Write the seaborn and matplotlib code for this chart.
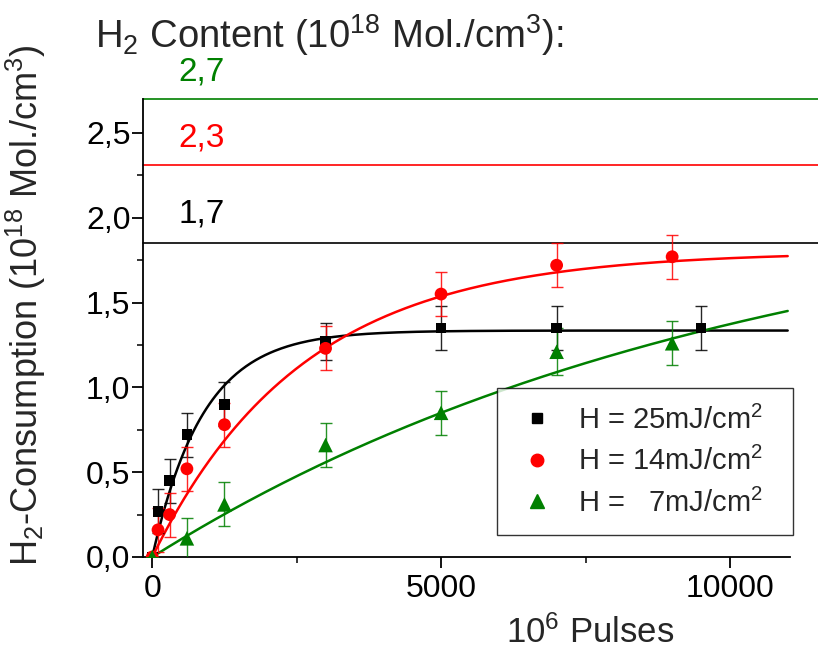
import numpy as np
import pandas as pd
import matplotlib
matplotlib.use("Agg")
import matplotlib.pyplot as plt
from matplotlib.ticker import FixedLocator, FuncFormatter
from matplotlib.lines import Line2D
import seaborn as sns

# ---------------- data ----------------
series_labels = ["H = 25mJ/cm$^2$", "H = 14mJ/cm$^2$", "H =   7mJ/cm$^2$"]
series_colors = ["#000000", "#ff0000", "#008000"]
series_markers = ["s", "o", "^"]

x_25 = [0, 100, 300, 600, 1250, 3000, 5000, 7000, 9500]
y_25 = [0.0, 0.27, 0.45, 0.72, 0.90, 1.27, 1.35, 1.35, 1.35]
e_25 = [0.0, 0.13, 0.13, 0.13, 0.13, 0.11, 0.13, 0.13, 0.13]

x_14 = [0, 100, 300, 600, 1250, 3000, 5000, 7000, 9000]
y_14 = [0.0, 0.16, 0.25, 0.52, 0.78, 1.23, 1.55, 1.72, 1.77]
e_14 = [0.0, 0.13, 0.13, 0.13, 0.13, 0.13, 0.13, 0.13, 0.13]

x_7 = [0, 600, 1250, 3000, 5000, 7000, 9000]
y_7 = [0.0, 0.11, 0.31, 0.66, 0.85, 1.21, 1.26]
e_7 = [0.0, 0.12, 0.13, 0.13, 0.13, 0.14, 0.13]

# saturation-fit parameters of the drawn curves: y = A * (1 - exp(-x / tau))
fit_amplitude = [1.335, 1.80, 2.21]
fit_tau = [880, 2600, 10300]
fit_x_max = 11000

# H2 content reference lines
content_labels = ["1,7", "2,3", "2,7"]
content_levels = [1.85, 2.31, 2.70]
content_label_y = [2.02, 2.47, 2.86]
content_colors = ["#000000", "#ff0000", "#008000"]

x_ticks = [0, 5000, 10000]
x_minor = [2500, 7500]
y_ticks = [0.0, 0.5, 1.0, 1.5, 2.0, 2.5]
y_minor = [0.25, 0.75, 1.25, 1.75, 2.25]

# ---------------- style ----------------
sns.set_style("ticks")
plt.rcParams["font.family"] = ["Liberation Sans", "DejaVu Sans"]
plt.rcParams["mathtext.fontset"] = "custom"
plt.rcParams["mathtext.rm"] = "Liberation Sans"
plt.rcParams["mathtext.it"] = "Liberation Sans:italic"
plt.rcParams["mathtext.bf"] = "Liberation Sans:bold"
plt.rcParams["mathtext.default"] = "regular"

W, H = 818, 653
fig = plt.figure(figsize=(W / 100, H / 100), dpi=100)
L, R, B, T = 143, 790, 557, 99
ax = fig.add_axes([L / W, 1 - B / H, (R - L) / W, (B - T) / H])

xs = [x_25, x_14, x_7]
ys = [y_25, y_14, y_7]
es = [e_25, e_14, e_7]
sizes = [60, 85, 110]

frames = []
for i in range(3):
    frames.append(pd.DataFrame({"x": xs[i], "y": ys[i], "err": es[i],
                                "series": series_labels[i]}))
df = pd.concat(frames, ignore_index=True)

# fit curves
fit_frames = []
for i in range(3):
    fx = np.linspace(0, fit_x_max, 400)
    fy = fit_amplitude[i] * (1 - np.exp(-fx / fit_tau[i]))
    fit_frames.append(pd.DataFrame({"x": fx, "y": fy, "series": series_labels[i]}))
fit_df = pd.concat(fit_frames, ignore_index=True)

sns.lineplot(data=fit_df, x="x", y="y", hue="series", palette=series_colors,
             hue_order=series_labels, linewidth=1.8, legend=False, ax=ax,
             zorder=2)

for i in range(3):
    sub = df[df["series"] == series_labels[i]]
    ax.errorbar(sub["x"], sub["y"], yerr=sub["err"], fmt="none",
                ecolor=series_colors[i], elinewidth=1.0, capsize=4.5,
                capthick=1.0, alpha=0.85, zorder=3)
    sns.scatterplot(data=sub, x="x", y="y", color=series_colors[i],
                    marker=series_markers[i], s=sizes[i], edgecolor="none",
                    legend=False, ax=ax, zorder=4)

# content lines and labels
for lab, lev, ly, col in zip(content_labels, content_levels, content_label_y, content_colors):
    ax.plot([0, 1.06], [lev, lev], transform=ax.get_yaxis_transform(),
            color=col, linewidth=1.2, clip_on=False, zorder=1)
    ax.text(450, ly, lab, color=col, fontsize=24, ha="left", va="center",
            clip_on=False)

fig.text(95 / W, 1 - 35 / H,
         "H$_2$ Content (10$^{18}$ Mol./cm$^3$):",
         fontsize=27.5, ha="left", va="center")

ax.set_xlim(-160, 11040)
ax.set_ylim(0, 2.7)

ax.xaxis.set_major_locator(FixedLocator(x_ticks))
ax.xaxis.set_minor_locator(FixedLocator(x_minor))
ax.yaxis.set_major_locator(FixedLocator(y_ticks))
ax.yaxis.set_minor_locator(FixedLocator(y_minor))
ax.yaxis.set_major_formatter(FuncFormatter(lambda v, p: f"{v:.1f}".replace(".", ",")))
ax.xaxis.set_major_formatter(FuncFormatter(lambda v, p: f"{int(v)}"))

ax.tick_params(axis="both", which="major", direction="out", length=8, width=1.3,
               labelsize=23, colors="black")
ax.tick_params(axis="both", which="minor", direction="out", length=4.5, width=1.3)
ax.tick_params(axis="x", pad=4)
ax.tick_params(axis="y", pad=1)

for s in ["top", "right"]:
    ax.spines[s].set_visible(False)
for s in ["left", "bottom"]:
    ax.spines[s].set_linewidth(1.3)
    ax.spines[s].set_color("black")

ax.set_xlabel("10$^6$ Pulses", fontsize=25)
ax.xaxis.set_label_coords((590 - L) / (R - L), -(615 - B) / (B - T))
ax.set_ylabel("H$_2$-Consumption (10$^{18}$ Mol./cm$^3$)", fontsize=26)
ax.yaxis.set_label_coords(-(L - 48) / (R - L), (B - 305) / (B - T))

handles = [Line2D([], [], linestyle="none", marker=m, color=c, markersize=ms)
           for m, c, ms in zip(series_markers, series_colors, [7, 9, 10])]
leg_x0 = (497 - L) / (R - L)
leg_y0 = (B - 535) / (B - T)
leg_w = (793 - 497) / (R - L)
leg_h = (535 - 394) / (B - T)
leg = ax.legend(handles, series_labels, loc="lower left",
                bbox_to_anchor=(leg_x0, leg_y0, leg_w, leg_h), mode="expand",
                fontsize=21, frameon=True,
                fancybox=False, edgecolor="black", borderpad=0.6,
                labelspacing=0.42, handletextpad=0.63, handlelength=1.54,
                borderaxespad=0)
leg.get_frame().set_linewidth(1.0)

fig.savefig("out.png", dpi=100)
